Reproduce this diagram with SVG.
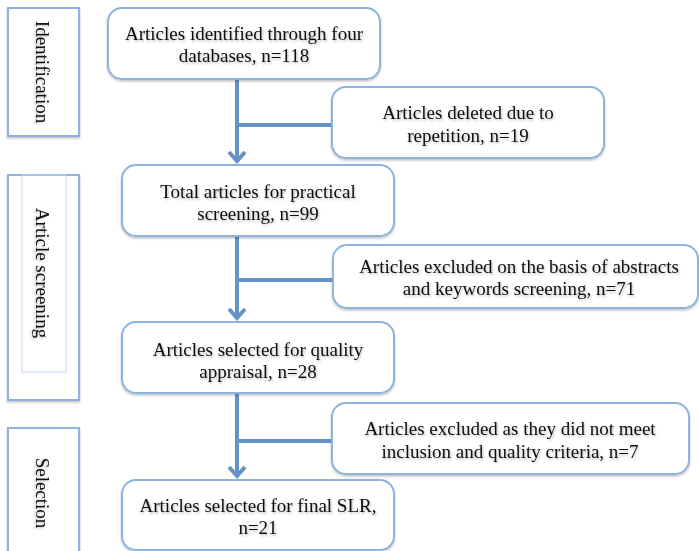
<svg xmlns="http://www.w3.org/2000/svg" width="699" height="551" viewBox="0 0 699 551">
<defs>
<filter id="ts" x="-5%" y="-20%" width="110%" height="140%">
<feDropShadow dx="1" dy="1.5" stdDeviation="0.9" flood-color="#000" flood-opacity="0.28"/>
</filter>
<filter id="bs" x="-5%" y="-5%" width="110%" height="115%">
<feDropShadow dx="0" dy="1.5" stdDeviation="1" flood-color="#000" flood-opacity="0.25"/>
</filter>
</defs>
<style>
.box{fill:#fff;stroke:#8db3de;stroke-width:2}
.lbl{fill:#fff;stroke:#8db3de;stroke-width:2}
.inner{fill:none;stroke:#c5d8ef;stroke-width:1}
.t{font-family:'Liberation Serif','DejaVu Serif','Times New Roman',serif;font-size:19px;fill:#111;text-anchor:middle}
.con{fill:none;stroke:#6693c6;stroke-width:4}
.arr{fill:none;stroke:#6693c6;stroke-width:4;stroke-linejoin:miter}
</style>
<rect width="699" height="551" fill="#fff"/>

<g id="stage-identification">
<rect class="lbl" x="8" y="8" width="71" height="128" filter="url(#bs)"/>
<text class="t" font-family="Liberation Serif, serif" filter="url(#ts)" transform="translate(36,72) rotate(90)">Identification</text>
</g>
<g id="stage-screening">
<rect class="lbl" x="8" y="175" width="71" height="225" filter="url(#bs)"/>
<rect class="inner" x="22" y="175" width="44" height="197"/>
<text class="t" font-family="Liberation Serif, serif" filter="url(#ts)" transform="translate(36,273) rotate(90)">Article screening</text>
</g>
<g id="stage-selection">
<rect class="lbl" x="8" y="428" width="71" height="140" filter="url(#bs)"/>
<text class="t" font-family="Liberation Serif, serif" filter="url(#ts)" transform="translate(36,493) rotate(90)">Selection</text>
</g>

<g id="connectors">
<path class="con" d="M237,79 V161 M237,125 H332"/>
<path class="arr" d="M229,152 L237,161 L245,152"/>
<path class="con" d="M237,236 V318 M237,280 H333"/>
<path class="arr" d="M229,309 L237,318 L245,309"/>
<path class="con" d="M237,392 V476 M237,441 H332"/>
<path class="arr" d="M229,467 L237,476 L245,467"/>
</g>

<g id="n1">
<rect class="box" x="108" y="8" width="272" height="71" rx="14" filter="url(#bs)"/>
<text class="t" filter="url(#ts)" x="244" y="40">Articles identified through four</text>
<text class="t" filter="url(#ts)" x="244" y="62">databases, n=118</text>
</g>
<g id="n2">
<rect class="box" x="332" y="87" width="272" height="71" rx="14" filter="url(#bs)"/>
<text class="t" filter="url(#ts)" x="468" y="119">Articles deleted due to</text>
<text class="t" filter="url(#ts)" x="468" y="142">repetition, n=19</text>
</g>
<g id="n3">
<rect class="box" x="122" y="165" width="272" height="71" rx="14" filter="url(#bs)"/>
<text class="t" filter="url(#ts)" x="258" y="198">Total articles for practical</text>
<text class="t" filter="url(#ts)" x="258" y="220">screening, n=99</text>
</g>
<g id="n4">
<rect class="box" x="333" y="245" width="365" height="63" rx="14" filter="url(#bs)"/>
<text class="t" filter="url(#ts)" x="519" y="273">Articles excluded on the basis of abstracts</text>
<text class="t" filter="url(#ts)" x="519" y="295">and keywords screening, n=71</text>
</g>
<g id="n5">
<rect class="box" x="122" y="322" width="272" height="71" rx="14" filter="url(#bs)"/>
<text class="t" filter="url(#ts)" x="258" y="356">Articles selected for quality</text>
<text class="t" filter="url(#ts)" x="258" y="378">appraisal, n=28</text>
</g>
<g id="n6">
<rect class="box" x="332" y="403" width="357" height="71" rx="14" filter="url(#bs)"/>
<text class="t" filter="url(#ts)" x="510" y="435">Articles excluded as they did not meet</text>
<text class="t" filter="url(#ts)" x="510" y="458">inclusion and quality criteria, n=7</text>
</g>
<g id="n7">
<rect class="box" x="122" y="480" width="272" height="70" rx="14" filter="url(#bs)"/>
<text class="t" filter="url(#ts)" x="258" y="512">Articles selected for final SLR,</text>
<text class="t" filter="url(#ts)" x="258" y="534">n=21</text>
</g>
</svg>
